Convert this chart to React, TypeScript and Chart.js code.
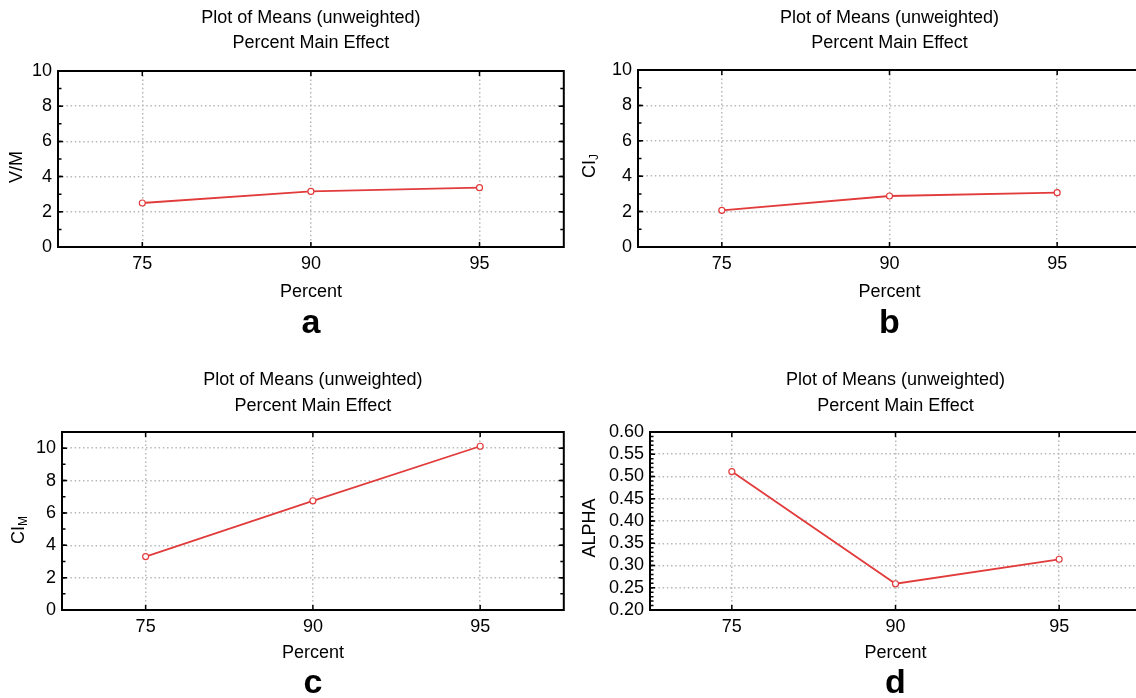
import React, { useEffect, useRef } from 'react';
import { Chart, registerables } from 'chart.js';

Chart.register(...registerables);

// ---------- data ----------
const categories = ['75', '90', '95'];
const vmValues = [2.5, 3.16, 3.37];
const cijValues = [2.07, 2.88, 3.07];
const cimValues = [3.3, 6.75, 10.12];
const alphaValues = [0.511, 0.259, 0.314];

const titleLines = ['Plot of Means (unweighted)', 'Percent Main Effect'];
const xAxisTitle = 'Percent';
const yTitleMain = ['V/M', 'CI', 'CI', 'ALPHA'];
const yTitleSub = ['', 'J', 'M', ''];
const panelLetters = ['a', 'b', 'c', 'd'];

// ---------- style ----------
const FAMILY = '"Liberation Sans", Arial, Helvetica, sans-serif';
const RED = '#e23b3b';

type PanelCfg = {
  values: number[];
  idx: number;
  yMin: number;
  yMax: number;
  yStep: number;
  minorStep: number;
  decimals: number;
  left: number;
  top: number;
  width: number;
  height: number;
  pad: { left: number; right: number; top: number; bottom: number };
  yWidth: number;
  xHeight: number;
  title1Y: number;
  title2Y: number;
  xTitleY: number;
  letterY: number;
  yTitleX: number;
  yTitleY: number;
};

const panels: PanelCfg[] = [
  {
    values: vmValues, idx: 0, yMin: 0, yMax: 10, yStep: 2, minorStep: 1, decimals: 0,
    left: 0, top: 0, width: 568, height: 349,
    pad: { left: 0, right: 4, top: 71, bottom: 62 }, yWidth: 58, xHeight: 40,
    title1Y: 18, title2Y: 43, xTitleY: 292, letterY: 333, yTitleX: 17, yTitleY: 167,
  },
  {
    values: cijValues, idx: 1, yMin: 0, yMax: 10, yStep: 2, minorStep: 1, decimals: 0,
    left: 568, top: 0, width: 580, height: 349,
    pad: { left: 0, right: 7, top: 70, bottom: 62 }, yWidth: 70, xHeight: 40,
    title1Y: 18, title2Y: 43, xTitleY: 292, letterY: 333, yTitleX: 22, yTitleY: 166,
  },
  {
    values: cimValues, idx: 2, yMin: 0, yMax: 11, yStep: 2, minorStep: 1, decimals: 0,
    left: 0, top: 349, width: 568, height: 349,
    pad: { left: 0, right: 4, top: 83, bottom: 48 }, yWidth: 62, xHeight: 40,
    title1Y: 31, title2Y: 57, xTitleY: 304, letterY: 344, yTitleX: 19, yTitleY: 181,
  },
  {
    values: alphaValues, idx: 3, yMin: 0.2, yMax: 0.6, yStep: 0.05, minorStep: 0.01, decimals: 2,
    left: 568, top: 349, width: 580, height: 349,
    pad: { left: 0, right: 7, top: 83, bottom: 48 }, yWidth: 82, xHeight: 40,
    title1Y: 31, title2Y: 57, xTitleY: 304, letterY: 344, yTitleX: 22, yTitleY: 179,
  },
];

const decorPlugin = {
  id: 'panelDecor',
  afterDraw(chart: any, _args: any, opts: any) {
    const { ctx, chartArea: ca, scales } = chart;
    const xs = scales.x;
    const ys = scales.y;
    ctx.save();

    // inward tick marks
    ctx.strokeStyle = '#000';
    ctx.lineWidth = 1.5;
    const yMark = (v: number, len: number) => {
      const py = ys.getPixelForValue(v);
      ctx.beginPath();
      ctx.moveTo(ca.left, py);
      ctx.lineTo(ca.left + len, py);
      ctx.moveTo(ca.right, py);
      ctx.lineTo(ca.right - len, py);
      ctx.stroke();
    };
    ys.ticks.forEach((t: any) => yMark(t.value, 5));
    const nMinor = Math.round((opts.yMax - opts.yMin) / opts.minorStep);
    for (let k = 0; k <= nMinor; k++) {
      yMark(opts.yMin + k * opts.minorStep, 3.5);
    }
    categories.forEach((_c, i) => {
      const px = xs.getPixelForValue(i);
      ctx.beginPath();
      ctx.moveTo(px, ca.top);
      ctx.lineTo(px, ca.top + 5);
      ctx.moveTo(px, ca.bottom);
      ctx.lineTo(px, ca.bottom - 5);
      ctx.stroke();
    });

    // frame
    ctx.lineWidth = 2;
    ctx.strokeRect(ca.left, ca.top, ca.right - ca.left, ca.bottom - ca.top);

    // texts
    const cx = (ca.left + ca.right) / 2;
    ctx.fillStyle = '#000';
    ctx.textAlign = 'center';
    ctx.textBaseline = 'middle';
    ctx.font = `18px ${FAMILY}`;
    ctx.fillText(titleLines[0], cx, opts.title1Y);
    ctx.fillText(titleLines[1], cx, opts.title2Y);
    ctx.fillText(xAxisTitle, cx, opts.xTitleY);

    ctx.font = `bold 34px ${FAMILY}`;
    ctx.textBaseline = 'alphabetic';
    ctx.fillText(panelLetters[opts.idx], cx, opts.letterY);

    // rotated y title with optional subscript
    const main = yTitleMain[opts.idx];
    const sub = yTitleSub[opts.idx];
    ctx.translate(opts.yTitleX, opts.yTitleY);
    ctx.rotate(-Math.PI / 2);
    ctx.textAlign = 'left';
    ctx.textBaseline = 'middle';
    ctx.font = `18px ${FAMILY}`;
    const wMain = ctx.measureText(main).width;
    ctx.font = `12px ${FAMILY}`;
    const wSub = sub ? ctx.measureText(sub).width : 0;
    const start = -(wMain + wSub) / 2;
    ctx.font = `18px ${FAMILY}`;
    ctx.fillText(main, start, 0);
    if (sub) {
      ctx.font = `12px ${FAMILY}`;
      ctx.fillText(sub, start + wMain, 5);
    }
    ctx.restore();
  },
};

function Panel({ cfg }: { cfg: PanelCfg }) {
  const ref = useRef<HTMLCanvasElement | null>(null);
  useEffect(() => {
    if (!ref.current) return;
    const chart = new Chart(ref.current, {
      type: 'line',
      data: {
        labels: categories,
        datasets: [
          {
            data: cfg.values,
            borderColor: RED,
            borderWidth: 1.8,
            pointRadius: 3,
            pointHoverRadius: 3,
            pointBackgroundColor: '#ffffff',
            pointBorderColor: RED,
            pointBorderWidth: 1.2,
            tension: 0,
            fill: false,
          },
        ],
      },
      options: {
        responsive: false,
        animation: false,
        events: [],
        layout: { padding: cfg.pad },
        plugins: {
          legend: { display: false },
          tooltip: { enabled: false },
          title: { display: false },
          panelDecor: {
            idx: cfg.idx,
            yMin: cfg.yMin,
            yMax: cfg.yMax,
            minorStep: cfg.minorStep,
            title1Y: cfg.title1Y,
            title2Y: cfg.title2Y,
            xTitleY: cfg.xTitleY,
            letterY: cfg.letterY,
            yTitleX: cfg.yTitleX,
            yTitleY: cfg.yTitleY,
          },
        } as any,
        scales: {
          x: {
            type: 'category',
            offset: true,
            grid: { display: true, offset: false, color: '#b8b8b8', lineWidth: 1.5, drawTicks: false },
            border: { display: false, dash: [1.5, 2.7] },
            ticks: { color: '#000', font: { size: 18, family: FAMILY }, padding: 6, maxRotation: 0, autoSkip: false },
            afterFit: (s: any) => {
              s.height = cfg.xHeight;
            },
          },
          y: {
            type: 'linear',
            min: cfg.yMin,
            max: cfg.yMax,
            grid: { display: true, color: '#b8b8b8', lineWidth: 1.5, drawTicks: false },
            border: { display: false, dash: [1.5, 2.7] },
            ticks: {
              stepSize: cfg.yStep,
              includeBounds: false,
              autoSkip: false,
              color: '#000',
              font: { size: 18, family: FAMILY },
              padding: 6,
              callback: (v: any) => Number(v).toFixed(cfg.decimals),
            },
            afterFit: (s: any) => {
              s.width = cfg.yWidth;
            },
          },
        },
      },
      plugins: [decorPlugin as any],
    });
    return () => chart.destroy();
  }, [cfg]);

  return (
    <canvas
      ref={ref}
      width={cfg.width}
      height={cfg.height}
      style={{
        position: 'absolute',
        left: cfg.left,
        top: cfg.top,
        width: cfg.width,
        height: cfg.height,
        display: 'block',
      }}
    />
  );
}

export default function App() {
  return (
    <div
      style={{
        position: 'fixed',
        left: 0,
        top: 0,
        width: 1136,
        height: 698,
        overflow: 'hidden',
        background: '#ffffff',
      }}
    >
      {panels.map((p) => (
        <Panel key={p.idx} cfg={p} />
      ))}
    </div>
  );
}
